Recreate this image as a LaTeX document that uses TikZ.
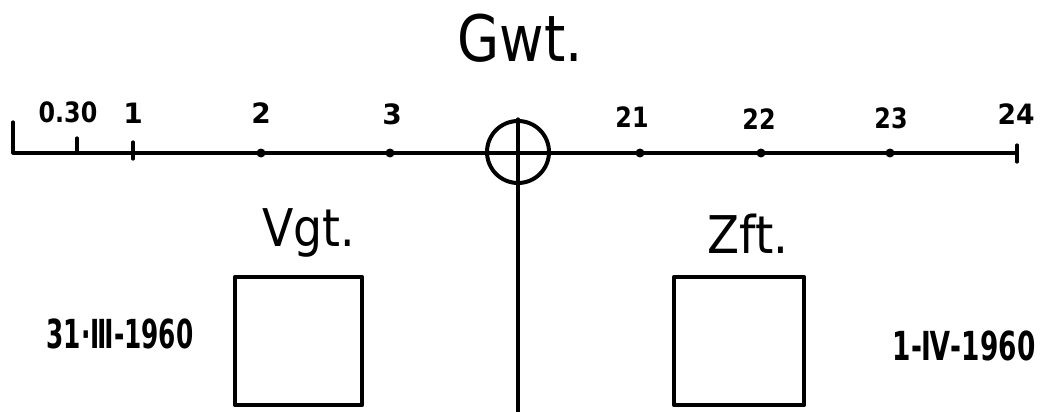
\documentclass[tikz,border=0pt]{standalone}
\usepackage{fontspec}
\usepackage{graphicx}
\setmainfont{DejaVu Sans}
\begin{document}
\begin{tikzpicture}[x=1pt,y=-1pt, line cap=round, line join=round,
  axis/.style={line width=3.2pt},
  tickdot/.style={circle, fill, inner sep=0pt, minimum size=9pt},
  boxst/.style={draw, line width=4.5pt, inner sep=0pt},
  ticklbl/.style={font=\bfseries\fontsize{28}{28}\selectfont, inner sep=0pt, anchor=base},
  biglbl/.style={font=\fontsize{52}{52}\selectfont, inner sep=0pt, anchor=base},
  datelbl/.style={font=\bfseries\fontsize{40}{40}\selectfont, inner sep=0pt, anchor=base}]
\useasboundingbox (0,0) rectangle (1057,412);
% axis coordinates
\coordinate (t0) at (13,153);
\coordinate (t0top) at (13,122);
\coordinate (t030) at (77,153);
\coordinate (t030top) at (77,138);
\coordinate (t1) at (133,153);
\coordinate (t1top) at (133,142);
\coordinate (t1bot) at (133,159);
\coordinate (t24) at (1017,153);
\coordinate (t24top) at (1017,145);
\coordinate (t24bot) at (1017,162);
\coordinate (bot) at (518,412);
% axis line
\draw[axis] (t0top) -- (t0) -- (t24);
\draw[axis] (t030top) -- (t030);
\draw[axis] (t1top) -- (t1bot);
\draw[axis] (t24top) -- (t24bot);
\node[tickdot] (t2) at (261,153) {};
\node[tickdot] (t3) at (390,153) {};
\node[tickdot] (t21) at (640,153) {};
\node[tickdot] (t22) at (761,153) {};
\node[tickdot] (t23) at (890,153) {};
% circle with cross
\node[circle, draw, line width=4pt, minimum size=62pt, inner sep=0pt] (g) at (518,152) {};
\draw[axis] (g.north) -- (bot);
% tick labels
\node[ticklbl] (l030) at (68,122) {\scalebox{0.85}[1]{0.30}};
\node[ticklbl] (l1) at (133,123) {1};
\node[ticklbl] (l2) at (261,123) {2};
\node[ticklbl] (l3) at (392,124) {3};
\node[ticklbl] (l21) at (632,127) {\scalebox{0.85}[1]{21}};
\node[ticklbl] (l22) at (759,129) {\scalebox{0.85}[1]{22}};
\node[ticklbl] (l23) at (891,128) {\scalebox{0.85}[1]{23}};
\node[ticklbl] (l24) at (1016,124) {\scalebox{0.95}[1]{24}};
% titles
\node[font=\fontsize{64}{64}\selectfont, inner sep=0pt, anchor=base] (gwt) at (520,62) {\scalebox{0.85}[1]{Gwt.}};
\node[biglbl] (vgt) at (309,246) {\scalebox{0.88}[1]{Vgt.}};
\node[biglbl] (zft) at (748,253) {\scalebox{0.9}[1]{Zft.}};
% boxes
\node[boxst, minimum width=127pt, minimum height=128pt] (bl) at (298.5,341) {};
\node[boxst, minimum width=130pt, minimum height=128pt] (br) at (739,341) {};
% dates
\node[datelbl] (dl) at (120,348) {\scalebox{0.62}[1]{31·Ⅲ-1960}};
\node[datelbl] (dr) at (964,360) {\scalebox{0.66}[1]{1-Ⅳ-1960}};
\end{tikzpicture}
\end{document}
